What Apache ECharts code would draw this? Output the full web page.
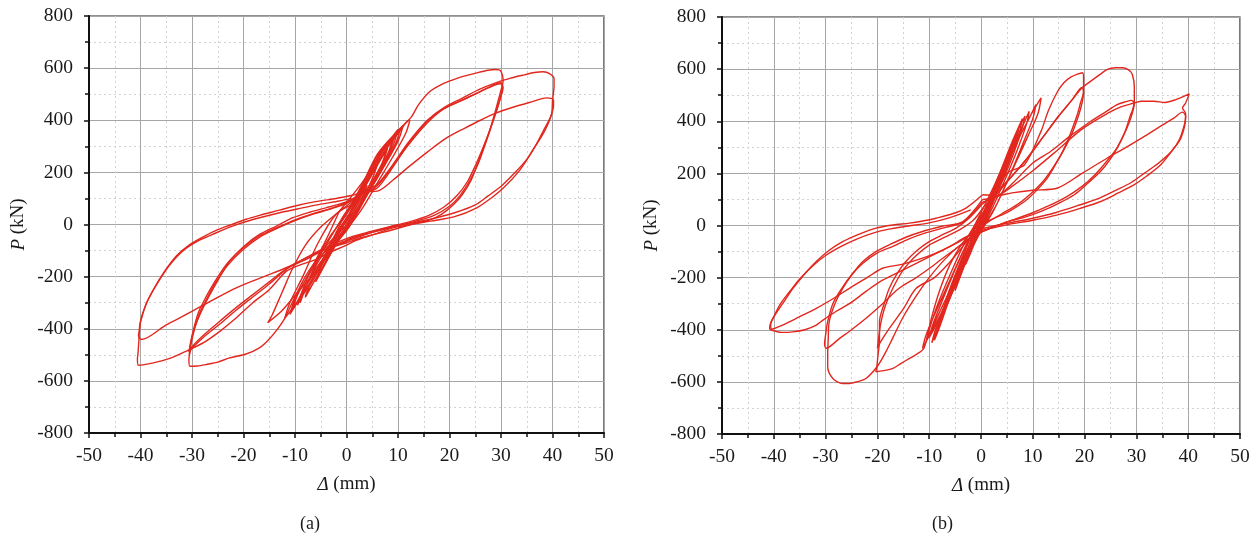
<!DOCTYPE html>
<html>
<head>
<meta charset="utf-8">
<script src="https://cdn.jsdelivr.net/npm/echarts@6/dist/echarts.min.js"></script>
<style>
html,body{margin:0;padding:0;background:#fff;}
#c{width:1258px;height:538px;}
</style>
</head>
<body>
<div id="c"></div>
<script>
// ---------- axis ticks ----------
const xTicks = [-50,-40,-30,-20,-10,0,10,20,30,40,50];
const yTicks = [-800,-600,-400,-200,0,200,400,600,800];
const panelLabels = ['(a)','(b)'];

// ---------- specimen (a): displacement (mm), load (kN) ----------
const aSmall1 = [[0,0],[1,35],[2,75],[3,115],[4,150],[3.4,115],[2,55],[0.5,5],[-1,-35],[-2.5,-85],[-4,-140],[-3.4,-105],[-2,-50],[-0.5,0],[0.5,30]];
const aSmall2 = [[0.5,30],[2,85],[4,160],[6,230],[5.2,185],[3.5,110],[1.5,30],[-1,-40],[-3,-110],[-6,-220],[-5.2,-175],[-3.5,-100],[-1.5,-20],[0.5,40]];
const aSmall3 = [[0.5,40],[3,130],[5.5,215],[8,300],[7,240],[5,160],[2,50],[-1,-45],[-4,-140],[-8,-280],[-7,-225],[-5,-150],[-2,-40],[1,55],[4,160],[8,295],[7,235],[4.5,140],[1.5,30],[-1.5,-60],[-4.5,-160],[-8,-275],[-6.8,-215],[-4,-110],[-1,10]];
const aSmall4 = [[-1,10],[2,100],[5,200],[8,300],[10.5,370],[9.5,310],[7,220],[4,120],[1,20],[-2,-60],[-5,-150],[-8,-240],[-10.5,-330],[-9.5,-270],[-7,-180],[-4,-80],[-1,20],[2,110],[6,240],[11,380],[10,320],[7.5,230],[4.5,130],[1.5,30],[-2,-70],[-6,-190],[-11,-345],[-10,-285],[-7.5,-195],[-4,-60],[-1.4,51]];
const aSmall5 = [[1,60],[3,150],[6,270],[9,340],[8.2,280],[6,200],[3.5,120],[1,40],[-2,-40],[-5,-110],[-9,-300],[-8,-240],[-6,-170],[-3,-90],[-1,-20],[2,100],[5.5,250],[9.5,350],[8.5,290],[6,180],[3,90],[0,0],[-3,-70],[-6,-160],[-9.5,-310],[-8.5,-250],[-6,-140],[-3,-40],[0,40],[4,190],[7.5,300],[10,365],[9,300],[6.5,205],[3.5,95],[0.5,-10],[-3.5,-110],[-7,-230],[-12,-360],[-11,-300],[-8.5,-200],[-5.5,-70],[-2,40],[1,75]];
const aCycle12 = [[-1.4,51],[3,160],[7,280],[10,350],[11.8,397],[12.3,400],[11.5,350],[9,260],[6,160],[3,60],[0,-20],[-3,-90],[-6,-180],[-9.5,-260],[-12.5,-330],[-15.3,-377],[-14.5,-350],[-12.5,-260],[-10.5,-170],[-8,-80],[-5,-10],[-2,40],[1.2,89]];
const aCycle30a = [[1.2,89],[4,180],[7,280],[10,360],[12.5,410],[14,460],[16.3,512],[18.5,538],[20.8,556],[23,570],[25.3,582],[27.5,592],[28.9,595],[29.9,590],[30.4,550],[30,515],[28.9,435],[27.8,360],[26.6,294],[25.3,225],[24.1,166],[22.5,115],[20.8,77],[18.5,40],[16.3,19],[12.5,0],[9.2,-19],[6,-35],[2.8,-51],[0,-70],[-3,-90],[-5.5,-130],[-8,-200],[-10.4,-294],[-12,-360],[-13.7,-409],[-15.5,-450],[-16.9,-473],[-19.5,-497],[-22.7,-512],[-25,-528],[-27.2,-537],[-29,-543],[-30.4,-544],[-30.6,-520],[-30.4,-480],[-30,-430],[-29,-370],[-27.2,-294],[-25,-215],[-22.7,-141],[-20,-85],[-16.9,-38],[-13.5,-5],[-10.4,26],[-7,48],[-4,64],[-1.4,78],[1.2,95]];
const aCycle30b = [[1.2,95],[3.5,120],[6,141],[9,220],[12,310],[15.7,397],[18.5,440],[22.1,473],[25,500],[27.5,525],[29.9,544],[30.3,530],[30,495],[29.2,440],[28,370],[26.8,300],[25.5,230],[24,170],[22,110],[20,70],[17,35],[13,10],[9,-10],[5,-30],[2,-45],[-0.4,-64],[-3,-85],[-6,-115],[-8.5,-140],[-11.7,-170],[-15,-220],[-18.2,-269],[-21.5,-320],[-24.6,-371],[-27.5,-420],[-30,-470],[-30.5,-500],[-30.2,-460],[-29.5,-400],[-28.5,-340],[-27,-280],[-25.5,-225],[-23,-155],[-20,-95],[-17,-50],[-13.5,-15],[-10,15],[-6.5,40],[-3,60],[0,80]];
const aCycle30c = [[0,80],[3,115],[6,150],[9,225],[12,305],[15.7,390],[19,445],[22.5,478],[26,510],[29.9,540],[30.4,525],[29.8,480],[29,430],[27.6,350],[26.3,285],[25,225],[23.5,165],[21.5,112],[19,68],[16,35],[12.5,12],[8.5,-8],[4.5,-28],[1.5,-44],[-1,-62],[-4,-88],[-7,-118],[-9.5,-145],[-11.7,-172],[-15,-228],[-18.2,-278],[-21.5,-330],[-24.6,-382],[-27.5,-428],[-30,-475],[-30.6,-490],[-30.3,-455],[-29.6,-395],[-28.7,-335],[-27.2,-275],[-25.6,-220],[-23.2,-150],[-20.2,-92],[-17,-45],[-13.5,-12],[-10,18],[-6.5,42],[-3,62],[0,85]];
const aCycle40a = [[0,85],[3,120],[6,155],[9,230],[12,315],[15.7,400],[19,450],[22.5,485],[26,520],[29.9,550],[32,562],[34.5,574],[36.5,583],[38.2,586],[39.5,578],[40.3,560],[40.3,531],[40,475],[39.8,422],[38.5,370],[37.2,320],[35.7,269],[33.5,205],[30.5,141],[28,100],[25.3,64],[21,30],[16.3,13],[12.5,0],[9.2,-12],[5,-40],[2,-60],[-0.4,-83],[-3,-105],[-6,-135],[-9,-155],[-11.7,-180],[-15,-250],[-18.2,-300],[-21.5,-360],[-24.6,-410],[-27.5,-450],[-31.1,-486],[-34.3,-514],[-37.5,-531],[-40.4,-540],[-40.6,-515],[-40.5,-498],[-40.3,-440],[-40.1,-380],[-39,-310],[-37.5,-250],[-35.5,-185],[-33,-120],[-30.5,-78],[-27.9,-48],[-25,-20],[-22.7,-3],[-19.5,20],[-16.9,35],[-13,55],[-9.8,72],[-6,88],[-2,100],[1.2,112]];
const aCycle40b = [[1.2,112],[3.5,125],[6,128],[9,170],[12,220],[15.5,275],[19.5,333],[23,370],[26,400],[29.2,429],[32,448],[35.5,468],[38.9,486],[40.2,478],[40.2,455],[39.8,422],[39,380],[37.8,335],[36.3,290],[35,250],[33,205],[30.2,150],[27.5,110],[25,75],[21,45],[16.3,20],[12.5,5],[9.2,-5],[5,-30],[2,-50],[-1.4,-75],[-4,-95],[-7,-120],[-9.5,-145],[-11.7,-166],[-16,-200],[-21.4,-243],[-26,-290],[-31.1,-345],[-35,-385],[-39.8,-441],[-40.4,-425],[-40.2,-409],[-40,-375],[-38.8,-300],[-37,-235],[-34.5,-160],[-32,-105],[-29,-65],[-26,-38],[-22.7,-10],[-18,20],[-13,45],[-9,62],[-5,78],[-1.4,90],[1,100]];

// ---------- specimen (b): displacement (mm), load (kN) ----------
const bSmall1 = [[0,0],[1,60],[2,110],[3,160],[2.4,110],[1,40],[0,-10],[-1,-55],[-2,-105],[-3,-150],[-2.4,-100],[-1,-30],[0,20]];
const bSmall2 = [[0,20],[2,110],[3.5,190],[5,260],[4.2,200],[2.5,110],[0.5,10],[-1.5,-70],[-3.5,-170],[-5,-250],[-4.2,-190],[-2.5,-100],[-0.5,-5],[1,60]];
const bSmall3 = [[1,60],[3,150],[5,250],[7.1,362],[6.2,290],[4,170],[1.5,50],[-1.5,-70],[-4,-190],[-7,-320],[-6.2,-260],[-4,-150],[-1.5,-20],[1,70],[3.5,180],[5.5,280],[7.3,370],[6.4,300],[4,175],[1,30],[-2,-90],[-4.5,-210],[-7.5,-345],[-6.5,-270],[-4,-140],[-1,10]];
const bSmall4 = [[0,30],[2,120],[4,220],[6,320],[8,410],[7.2,340],[5,230],[2.5,110],[0,10],[-2.5,-100],[-5,-220],[-8,-390],[-9,-440],[-8.2,-380],[-6,-260],[-3.5,-130],[-1,-20],[1.5,90],[4,210],[7,360],[8.5,420],[7.6,350],[5,210],[2,80],[-1,-40],[-4,-180],[-7,-330],[-9.5,-450],[-8.8,-400],[-6.5,-280],[-3.5,-140],[-1,0]];
const bCycle10 = [[-1,10],[2,130],[5,260],[8,380],[9.3,438],[8.8,390],[7,290],[4.5,170],[2,60],[-1,-50],[-4,-180],[-7,-320],[-10,-430],[-9.3,-380],[-7.5,-290],[-5,-170],[-2.5,-60],[0,30],[3,150],[6,290],[9,400],[10.6,464],[10,410],[8,310],[5.5,190],[2.5,60],[-0.5,-40],[-3.5,-160],[-7,-310],[-11.3,-472],[-10.6,-420],[-8.7,-330],[-6,-210],[-3,-80],[0,30],[3,140],[6,280],[9.5,420],[11.6,490],[11,430],[9,340],[6,210],[3,80],[0,-20],[-3,-130],[-6.5,-270],[-10.5,-440],[-10,-400],[-8.5,-310],[-6,-190],[-3,-60],[0,40]];
const bCycle20a = [[0,40],[2,90],[5,200],[8.4,233],[11.6,362],[13,440],[14.8,515],[16,548],[17.4,570],[18.5,580],[19.6,586],[19.8,560],[19.8,515],[19.2,470],[18.6,426],[17.4,360],[16.1,298],[14.5,238],[12.8,182],[10.5,130],[8.4,92],[5.5,55],[2.6,28],[0,5],[-2,-30],[-4,-80],[-6,-150],[-8,-250],[-9.5,-350],[-11,-470],[-12.5,-495],[-13.8,-510],[-15.5,-530],[-17,-548],[-18.5,-556],[-20.3,-561],[-20.1,-540],[-19.9,-500],[-19.6,-440],[-19.6,-369],[-18.7,-300],[-17.7,-241],[-16.2,-185],[-14.5,-138],[-12.3,-95],[-10,-62],[-7.4,-35],[-4.8,-10],[-2.2,30],[0.3,83]];
const bCycle20b = [[0.3,83],[3,130],[6,190],[9,260],[12,340],[15,420],[17.5,480],[19.5,530],[19.8,510],[19.5,470],[18.8,420],[17.5,350],[16,290],[14,225],[12,170],[9.5,120],[7,80],[4,45],[1.5,15],[-1,-20],[-3.5,-80],[-6,-140],[-9,-200],[-12.5,-241],[-15,-320],[-17.7,-395],[-19.5,-450],[-20,-471],[-19.8,-440],[-19.4,-380],[-18.5,-310],[-17,-240],[-15,-170],[-12.5,-115],[-10,-75],[-7,-45],[-4,-15],[-1.5,20],[0.5,70]];
const bCycle30a = [[0.5,70],[3,120],[6,190],[9,260],[12,340],[15,420],[17.5,480],[19.6,530],[21.2,554],[23,580],[24.4,599],[26,605],[27.3,605],[28.5,597],[29.2,580],[29.6,530],[29.6,477],[29.2,440],[28.9,426],[27.8,360],[26.3,298],[24.8,250],[23.1,208],[20.5,160],[18,118],[15,85],[11.6,54],[8.5,32],[5.1,15],[1.9,-10],[-1,-35],[-4,-75],[-7,-130],[-10,-200],[-12.5,-270],[-15,-350],[-17,-430],[-18.5,-490],[-20,-540],[-22.2,-587],[-24,-600],[-25.4,-606],[-26.7,-606],[-28.6,-587],[-29.6,-540],[-29.6,-497],[-29.5,-440],[-29.3,-369],[-28.2,-300],[-26.7,-241],[-24.8,-185],[-22.8,-138],[-20.3,-100],[-17.7,-74],[-14.5,-45],[-11.3,-23],[-7.5,-3],[-3.5,15],[0.3,100]];
const bCycle30b = [[0.3,100],[3,110],[6,160],[10,240],[13.5,285],[17,340],[21.2,400],[24,435],[26.3,464],[28,475],[29,480],[29.6,470],[29.4,445],[28.7,400],[27.5,345],[26,290],[24,240],[22,195],[19.5,150],[16.5,110],[13,75],[9.5,45],[6,20],[2.5,-5],[-0.5,-30],[-3.5,-70],[-7,-120],[-10,-165],[-12.5,-200],[-15.8,-241],[-19,-300],[-22.2,-356],[-25,-400],[-27.3,-433],[-29.9,-471],[-30.2,-455],[-30,-420],[-29.6,-369],[-28.6,-300],[-27,-245],[-25,-190],[-22.8,-145],[-20,-105],[-17,-80],[-14,-52],[-11,-30],[-7,-8],[-3.5,12],[0.3,90]];
const bCycle40a = [[0.3,90],[3,110],[6,150],[10,210],[14.8,290],[19.5,370],[24.4,430],[27,455],[29.6,470],[31,477],[33.4,477],[35.5,472],[37.5,482],[40.2,505],[39.5,470],[38.9,451],[39.5,430],[39.5,413],[38.6,336],[37,290],[34.7,233],[32,190],[29.6,157],[26.5,125],[23.1,92],[19,65],[14.8,41],[10,20],[5.1,3],[0,-20],[-3,-45],[-6,-80],[-10,-120],[-15,-170],[-19,-210],[-22,-250],[-25.4,-300],[-28,-330],[-30.5,-363],[-31.8,-382],[-34,-400],[-36.3,-408],[-38.5,-410],[-40.5,-401],[-40.8,-395],[-40.5,-369],[-39,-320],[-37.8,-285],[-36.3,-241],[-34,-185],[-31.8,-138],[-29.3,-95],[-26.7,-62],[-23.5,-33],[-20.3,-10],[-17,2],[-13.8,9],[-10.5,20],[-8.7,28],[-5.5,45],[-2.9,67],[0.3,118]];
const bCycle40b = [[0.3,118],[3,115],[6,125],[10,135],[14.8,144],[19.5,200],[24.4,259],[28,300],[32.1,349],[35,385],[37.3,413],[38.9,435],[39.5,420],[39.3,390],[38.3,330],[36.8,285],[34.3,240],[31.5,200],[29,165],[26,135],[22.5,102],[18.5,75],[14.5,50],[10,28],[5,8],[0,-15],[-4,-60],[-8,-100],[-12,-130],[-15.5,-150],[-19,-164],[-22,-200],[-25.4,-241],[-28.5,-280],[-31.8,-318],[-35,-350],[-38.3,-382],[-40.5,-398],[-40.6,-380],[-40,-350],[-38.7,-300],[-37,-255],[-35,-205],[-32.5,-155],[-30,-115],[-27,-80],[-24,-52],[-21,-30],[-18,-15],[-14,-2],[-10,10],[-6,30],[-2,60]];

const aCycles = [aSmall1,aSmall2,aSmall3,aSmall4,aSmall5,aCycle12,aCycle30a,aCycle30b,aCycle30c,aCycle40a,aCycle40b];
const bCycles = [bSmall1,bSmall2,bSmall3,bSmall4,bCycle10,bCycle20a,bCycle20b,bCycle30a,bCycle30b,bCycle40a,bCycle40b];

// ---------- chart ----------
const FONT = '"Liberation Serif", "DejaVu Serif", serif';
const TXT = '#1a1a1a';
const RED = '#e2271e';

function axisCommon(){
  return {
    axisLine:{onZero:false, lineStyle:{color:'#111', width:2}},
    axisTick:{show:true, inside:false, length:5, lineStyle:{color:'#111', width:1.5}},
    minorTick:{show:true, splitNumber:2, length:4, lineStyle:{color:'#111', width:1.5}},
    axisLabel:{fontFamily:FONT, fontSize:19.5, color:TXT, margin:16},
    splitLine:{show:true, lineStyle:{color:'#a6a6a6', width:1}},
    minorSplitLine:{show:true, lineStyle:{color:'#d2d2d2', width:1, type:[2,3]}}
  };
}
function xAxisCfg(gi){
  return Object.assign({
    type:'value', gridIndex:gi, min:xTicks[0], max:xTicks[xTicks.length-1], interval:10,
    name:'{i|Δ} (mm)', nameLocation:'middle', nameGap:42,
    nameTextStyle:{fontFamily:FONT, fontSize:19, color:TXT, rich:{i:{fontFamily:FONT, fontSize:19, fontStyle:'italic', color:TXT}}}
  }, axisCommon(), {axisLabel:{fontFamily:FONT, fontSize:19.5, color:TXT, margin:13}});
}
function yAxisCfg(gi){
  return Object.assign({
    type:'value', gridIndex:gi, min:yTicks[0], max:yTicks[yTicks.length-1], interval:200,
    name:'{i|P} (kN)', nameLocation:'middle', nameGap:61, nameRotate:90,
    nameTextStyle:{fontFamily:FONT, fontSize:19, color:TXT, rich:{i:{fontFamily:FONT, fontSize:19, fontStyle:'italic', color:TXT}}}
  }, axisCommon());
}
function mkSeries(cycles, gi){
  return cycles.map(c => ({
    type:'line', xAxisIndex:gi, yAxisIndex:gi, data:c, showSymbol:false, symbol:'none',
    smooth:0.3, lineStyle:{color:RED, width:1.4}, silent:true, z:3
  }));
}

const chart = echarts.init(document.getElementById('c'), null, {renderer:'canvas'});
chart.setOption({
  animation:false,
  backgroundColor:'#ffffff',
  grid:[
    {left:89, top:16, width:515, height:417, show:true, borderColor:'#222', borderWidth:1.2, backgroundColor:'transparent'},
    {left:722, top:17, width:518, height:417, show:true, borderColor:'#222', borderWidth:1.2, backgroundColor:'transparent'}
  ],
  xAxis:[xAxisCfg(0), xAxisCfg(1)],
  yAxis:[yAxisCfg(0), yAxisCfg(1)],
  series:[...mkSeries(aCycles,0), ...mkSeries(bCycles,1)],
  graphic:[
    {type:'text', left:300, top:515, style:{text:panelLabels[0], font:'18px '+FONT, fill:TXT}},
    {type:'text', left:932, top:515, style:{text:panelLabels[1], font:'18px '+FONT, fill:TXT}}
  ]
});
</script>
</body>
</html>
